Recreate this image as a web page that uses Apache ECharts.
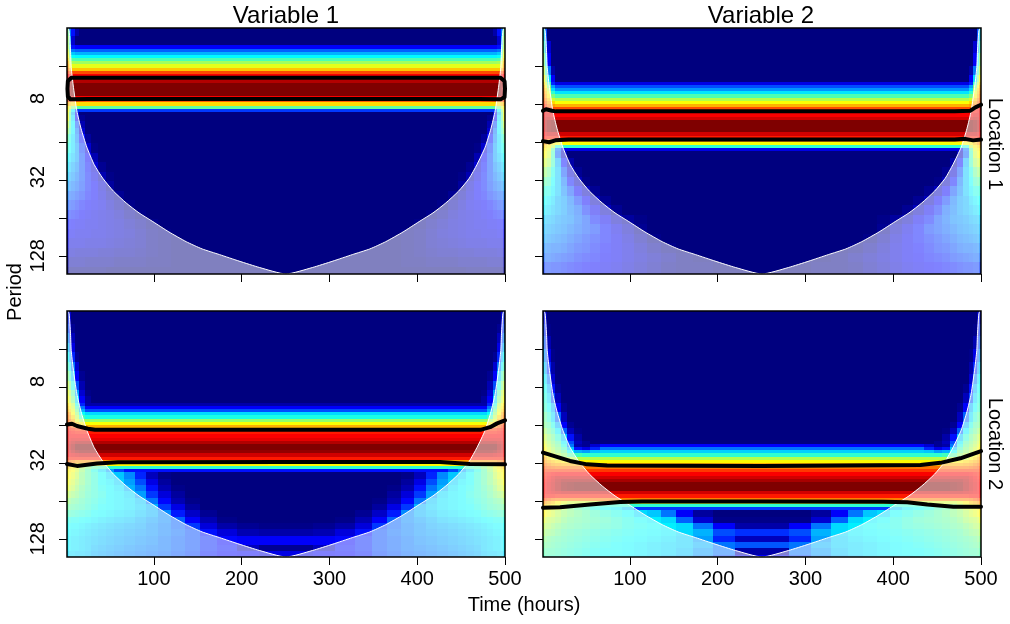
<!DOCTYPE html>
<html>
<head>
<meta charset="utf-8">
<style>html,body{margin:0;padding:0;background:#fff}#c{width:1010px;height:624px}</style>
<script src="https://cdn.jsdelivr.net/npm/echarts@6/dist/echarts.min.js"></script>
</head>
<body>
<div id="c"></div>
<script>
// Time tick values and period ticks (log2 of period)
const timeTicks = [100, 200, 300, 400, 500];
const periodTicks = [2, 3, 4, 5, 6, 7];
const periodLabelTicks = [3, 5, 7];
const periodLabels = {3:'  8', 5:' 32', 7:'128'};
const colTimes = [1,3,6,10,15,21,28,36,45,55,66,78,91,105,120,136,153,172,195,220,251];

// Cone of influence
const coiTime = [2.5,3.5,5,5.8,8,12.2,17,23.6,32,41.8,54,68.5,83,98.8,117,136.9,155,174.9,197,220.5,250.5,280.5,304,326,346,364,384,402.2,418,432.5,447,459.2,468,477.4,484,488.8,493,495.2,496,497.5,498.5];
const coiLog2 = [1,1.08,1.6,2.04,2.5,3.18,3.65,4.14,4.6,4.96,5.3,5.61,5.87,6.1,6.37,6.63,6.82,6.97,7.14,7.31,7.48,7.31,7.14,6.97,6.82,6.63,6.37,6.1,5.87,5.61,5.3,4.96,4.6,4.14,3.65,3.18,2.5,2.04,1.6,1.08,1];

// Row heights (1/12 octave units) and power rows: values from the edge toward the centre; last value carries on
const rowOffsets = [0.5, 0, 0, 0];
const p1Spans = [2,3,1,1,1,1,1,1,1,1,1,1,1,1,4,1,1,1,1,1,1,2,2,2,3,3,3,3,3,3,3,3,3,3,3,3,3,3,3];
const p1Rows = [
[48,25,14,4,0],[52,30,8,0],[55,40,14,12],[58,45,24,22],[60,48,32,30],[62,50,38,37],[66,55,46,45],[70,60,54,53],[72,64,60],[76,70,68],[82,80],[88],[92],[92,95],
[93,97,100],[88,86,88],[80,80,78],[70,68,66],[64,58,50,47],[62,52,36,18],[60,48,30,10,0],
[61,48,34,12,2,0],[56,46,36,20,5,0],[52,44,36,24,8,0],[46,40,34,26,14,3,0],[42,38,34,28,18,8,1,0],[38,35,32,28,20,12,5,0],[35,32,29,26,20,14,8,2,0],[32,29,27,24,20,15,10,5,1,0],[28,26,24,22,19,15,12,8,3,0],[24,22,21,19,17,14,12,9,5,2,0],[21,19,18,16,14,12,11,10,7,4,1,0],[17,16,15,14,12,11,10,9,8,6,3,1,0],[14,13,12,11,11,10,10,9,8,7,5,3,1,0],[12,11,11,10,10,10,9,9,8,7,6,4,2,1,0],[10,9,9,9,9,8,8,8,7,6,5,4,2,1,0],[7,7,7,6,6,6,6,5,5,4,4,3,2,1,0],[4,4,4,4,4,3,3,3,3,2,2,2,1,1,0],[1,1,1,1,1,1,1,1,0]];

const p2Spans = [4,4,4,3,2,1,1,1,1,1,1,1,1,1,1,1,1,4,1,1,1,1,1,1,2,3,3,3,3,3,3,3,3,3,3,3,4];
const p2Rows = [
[34,20,0],[42,26,8,0],[50,36,12,0],[56,44,24,4,0],[62,52,34,12,0],[66,58,44,16,10],[70,62,50,28,20],[72,66,56,34,27],[74,68,60,42,35],[76,70,64,50,45],[78,74,68,58,55],[80,78,72,66,62],[84,82,76,72,70],[88,86,82,80],[90,88,86,85],[90,90,90,88],[90,92,93,92],
[91,95,98,100],[88,90,92],[86,86,85],[80,80,76,72],[72,72,68,64,62],[68,66,64,56,42],[65,64,60,46,24,10],
[63,62,58,44,22,6,0],[58,58,54,44,30,14,4,0],[52,52,48,40,32,20,8,2,0],[46,46,44,38,32,24,14,6,1,0],[42,40,40,36,32,26,20,12,6,2,0],[38,38,36,34,30,28,24,18,12,6,2,0],[36,35,34,32,30,28,25,22,16,11,6,2,0],[32,32,31,30,28,27,26,23,20,15,11,6,3,1,0],[30,30,29,28,27,26,24,22,20,18,14,10,6,2,0],[28,28,27,26,25,24,22,20,18,16,14,11,8,4,1,0],[25,25,24,23,23,22,20,18,17,15,13,11,9,6,3,1,0],[22,22,22,21,20,19,18,16,15,14,12,11,9,7,5,3,1,0],[18,18,18,17,17,16,15,14,13,12,11,10,8,6,4,2,1,1,0]];

const p3Spans = [4,3,3,3,3,3,3,3,2,2,1,1,1,1,1,1,1,1,1,1,1,1,1,2,1,1,1,1,1,1,1,2,2,2,2,2,2,2,2,2,2,3,2,2];
const p3Rows = [
[16,8,0],[20,12,2,0],[26,18,6,0],[32,24,10,0],[38,30,16,2,0],[44,36,24,8,0],[50,44,32,12,2,0],[56,50,40,20,5,0],[60,56,46,28,8,1,0],[62,58,50,34,12,3,0],
[66,62,56,40,16,4],[68,64,58,44,24,12],[70,66,60,48,30,20],[74,70,62,52,38,34],[76,72,66,56,44,40],[78,76,70,60,54,52],[80,78,74,68,64,62],[84,82,78,74,70],[86,85,84,82],[87,87,86,85],[88],[88,89,90],[89,91,93,95],
[90,93,96,100],[89,91,94,97,98],[88,89,90,91,92],[84,85,85,85],[78,76,74,72],[72,70,68,66,64,63],[68,66,64,60,54,50,46,44,42],[64,64,62,58,52,46,40,34,28,20,14],
[64,62,60,56,50,46,42,38,34,32,26,16,6,1,0],[62,60,58,54,50,46,42,38,36,33,28,20,10,3,0],[60,58,56,52,48,45,42,39,37,35,30,24,14,5,1,0],[56,54,52,50,47,44,42,40,37,36,34,28,18,9,3,0],[52,50,48,47,45,43,41,39,37,36,35,32,24,13,5,1,0],[48,47,46,45,44,42,40,38,37,36,35,33,30,18,10,3,0],[44,44,43,42,41,40,38,37,36,35,34,32,30,26,15,7,2,0],[40,40,39,39,38,37,36,35,34,33,32,30,28,26,22,12,5,1,0],[38,38,37,37,36,35,34,33,32,31,30,29,27,25,22,18,9,4,2,1],[37,37,36,36,35,34,33,32,31,30,29,28,27,25,23,20,14,9,5,4],
[36,36,35,35,34,33,32,31,30,29,28,27,26,24,22,20,16,13,12,12],[36,36,35,35,34,33,31,30,29,28,27,26,25,24,22,20,16,14,6,2],[34,34,34,33,33,32,30,29,28,27,26,25,24,23,21,19,15,13,12,10]];

const p4Spans = [4,4,4,4,4,3,3,3,3,3,2,2,2,1,1,1,1,1,1,1,1,1,1,1,1,1,3,1,1,1,1,1,1,2,2,2,2,2,2,2,1];
const p4Rows = [
[14,6,0],[18,10,1,0],[22,16,5,0],[28,22,10,1,0],[34,28,16,4,0],[38,34,24,8,0],[40,38,30,14,2,0],[42,40,34,20,6,0],[44,42,38,30,12,2,0],[48,46,42,34,22,6,0],[50,48,46,40,30,12,2,0],[54,52,48,44,36,22,6,1,0],[58,56,52,48,42,32,14,4,0],
[60,58,54,50,46,36,20,6,2,0],[62,60,56,52,48,40,24,4,2,8,12],[64,62,58,54,50,44,32,14,10,16,24],[66,64,60,56,52,48,38,30,28,32,33],[68,66,62,58,56,52,46,44,42],[72,70,66,62,58,56,56,55],[74,72,70,68,66,64,63],[76,76,74,72,71,70],[80,79,78,77,76],[82],[84,85,86,87,88],[85,86,88,90,92],[86,87,89,91,94,96],
[87,88,90,92,95,98,99,100],[87,88,89,90,91,92],[86,86,86,86,85],[80,80,78,76,75],[74,72,70,68,64,60,58],[70,68,66,64,60,56,52,48,44,42],[66,64,62,60,58,54,50,46,44,40,38,36,32,18],
[64,62,60,58,55,52,50,48,46,44,42,40,38,34,32,24,12,3,0],[60,58,56,55,53,50,48,47,46,45,44,42,40,38,36,34,22,8,1,1],[56,55,54,52,50,48,47,46,45,44,43,42,40,39,38,36,34,24,12,4],[54,52,51,50,48,46,45,44,43,42,41,40,39,38,37,36,34,30,20,17],[50,50,48,47,46,45,44,43,42,41,40,39,38,37,36,35,33,28,16,6],[48,48,47,46,45,44,43,42,41,40,39,38,37,36,35,34,33,30,24,21],[46,46,45,45,44,43,42,41,40,39,38,38,37,36,35,34,32,28,24,4],[44,44,44,43,43,42,41,40,39,38,37,36,36,35,34,32,30,26,20,12]];

// Ridge contours: time and log2(period)
const r1Time = [1.5,2,6,250,495,499.5,500,499.5,495,470,250,25,5,2,1.5];
const r1Log2 = [2.6,2.4,2.31,2.31,2.31,2.4,2.6,2.82,2.88,2.87,2.87,2.87,2.88,2.8,2.6];
const r2aTime = [1,4.4,11.3,15.8,250,470,488,493.6,500];
const r2aLog2 = [3.18,3.14,3.18,3.196,3.196,3.196,3.178,3.09,3.02];
const r2bTime = [1,8,15,30,250,470,482,491,500];
const r2bLog2 = [3.98,4.01,3.96,3.94,3.94,3.94,3.92,3.96,3.94];
const r3aTime = [1,6.7,12.4,24.9,32.9,250,472,483,491,500];
const r3aLog2 = [3.99,3.97,4.03,4.1,4.13,4.13,4.13,4.06,3.96,3.88];
const r3bTime = [1,12.4,35.2,59,250,426,460,500];
const r3bLog2 = [5.03,5.08,5.02,4.985,4.976,4.976,5.03,5.04];
const r4aTime = [1,31.8,51.2,74,250,431,453.7,476.5,500];
const r4aLog2 = [4.73,4.95,5.04,5.07,5.08,5.055,5,4.88,4.69];
const r4bTime = [1,20.4,54.6,88.8,113.9,250,388.7,416,438.9,468.5,500];
const r4bLog2 = [6.18,6.17,6.1,6.03,6.016,6.016,6.024,6.04,6.1,6.155,6.155];

const grids = [
  {left:67, top:28, width:438, height:246},
  {left:543, top:28, width:438, height:246},
  {left:67, top:311, width:438, height:246},
  {left:543, top:311, width:438, height:246}
];
const font = '"Liberation Sans", Arial, sans-serif';

function buildCells(spans, rows, offset) {
  const out = [];
  let r = 0;
  rows.forEach((vals, i) => {
    const y0 = i === 0 ? 1 : 1 + (r + offset) / 12, y1 = 1 + (r + spans[i] + offset) / 12;
    for (let c = 0; c < colTimes.length - 1; c++) {
      const v = vals[Math.min(c, vals.length - 1)];
      out.push([colTimes[c], colTimes[c + 1], y0, y1, v]);
      out.push([501 - colTimes[c + 1], 501 - colTimes[c], y0, y1, v]);
    }
    r += spans[i];
  });
  return out;
}
function renderCell(params, api) {
  const a = api.coord([api.value(0), api.value(2)]);
  const b = api.coord([api.value(1), api.value(3)]);
  const x = Math.round(a[0]), y = Math.round(a[1]);
  return {type:'rect', shape:{x:x, y:y, width:Math.round(b[0]) - x, height:Math.round(b[1]) - y},
    style:{fill:api.visual('color')}};
}
const zip = (xs, ys) => xs.map((x, i) => [x, ys[i]]);
function heat(i, spans, rows) {
  return {type:'custom', xAxisIndex:i, yAxisIndex:i, data:buildCells(spans, rows, rowOffsets[i]), renderItem:renderCell,
    clip:true, silent:true, z:1, encode:{x:[0,1], y:[2,3]}};
}
function coi(i) {
  return {type:'line', xAxisIndex:i, yAxisIndex:i, data:zip(coiTime, coiLog2), symbol:'none', silent:true, z:2, smooth:0.2,
    lineStyle:{color:'#fff', width:1}, areaStyle:{color:'#fff', opacity:0.5, origin:'end'}};
}
function ridge(i, xs, ys, w) {
  return {type:'line', xAxisIndex:i, yAxisIndex:i, data:zip(xs, ys), symbol:'none', silent:true, z:3,
    lineStyle:{color:'#000', width:w, cap:'round', join:'round'}};
}
const xAxes = grids.map((g, i) => ({
  type:'value', gridIndex:i, min:1, max:500, splitLine:{show:false},
  axisLine:{show:false},
  axisTick:{show:true, length:8, customValues:timeTicks, lineStyle:{color:'#000', width:1}},
  axisLabel:{show:i >= 2, customValues:timeTicks, margin:12, fontSize:20, color:'#000', fontFamily:font, hideOverlap:false}
}));
const yAxes = grids.map((g, i) => ({
  type:'value', gridIndex:i, min:1, max:7.48, inverse:true, splitLine:{show:false},
  axisLine:{show:false},
  axisTick:{show:true, length:8, customValues:periodTicks, lineStyle:{color:'#000', width:1}},
  axisLabel:{show:i % 2 === 0, customValues:periodLabelTicks, rotate:90, margin:19, fontSize:20, color:'#000', fontFamily:font,
    formatter:v => periodLabels[v]}
}));
const textEl = (t, x, y, size, rot) => ({type:'text', x:x, y:y, rotation:rot || 0, z:50, silent:true,
  style:{text:t, fontSize:size, fontFamily:font, fill:'#000', textAlign:'center', textVerticalAlign:'middle'}});
const graphics = grids.map(g => ({type:'rect', z:40, silent:true,
  shape:{x:g.left, y:g.top, width:g.width, height:g.height}, style:{fill:'none', stroke:'#000', lineWidth:1.5}}));
graphics.push(textEl('Variable 1', 286, 16, 24), textEl('Variable 2', 761, 16, 24),
  textEl('Time (hours)', 524, 605, 20), textEl('Period', 15, 292, 20, Math.PI/2),
  textEl('Location 1', 995, 144, 20, -Math.PI/2), textEl('Location 2', 995, 444, 20, -Math.PI/2));

const chart = echarts.init(document.getElementById('c'), null, {renderer:'canvas'});
chart.setOption({
  animation:false,
  backgroundColor:'#fff',
  grid:grids,
  xAxis:xAxes,
  yAxis:yAxes,
  visualMap:{show:false, type:'continuous', min:0, max:100, dimension:4, seriesIndex:[0,1,2,3],
    inRange:{color:['#00007F','#0000FF','#007FFF','#00FFFF','#7FFF7F','#FFFF00','#FF7F00','#FF0000','#7F0000']}},
  graphic:graphics,
  series:[
    heat(0, p1Spans, p1Rows), heat(1, p2Spans, p2Rows), heat(2, p3Spans, p3Rows), heat(3, p4Spans, p4Rows),
    coi(0), coi(1), coi(2), coi(3),
    ridge(0, r1Time, r1Log2, 4),
    ridge(1, r2aTime, r2aLog2, 4), ridge(1, r2bTime, r2bLog2, 4),
    ridge(2, r3aTime, r3aLog2, 4), ridge(2, r3bTime, r3bLog2, 4),
    ridge(3, r4aTime, r4aLog2, 4), ridge(3, r4bTime, r4bLog2, 4)
  ]
});
</script>
</body>
</html>
